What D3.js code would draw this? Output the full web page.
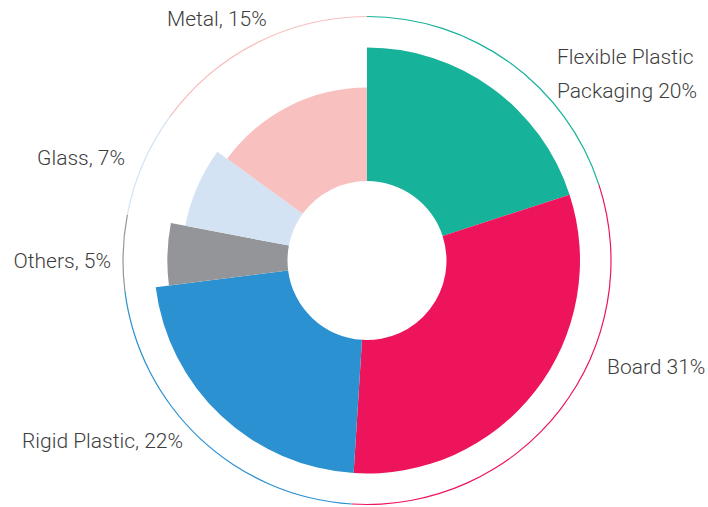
<!DOCTYPE html>
<html>
<head>
<meta charset="utf-8">
<script src="https://cdn.jsdelivr.net/npm/d3@7/dist/d3.min.js"></script>
<style>
html,body{margin:0;padding:0;background:#fff;}
svg{display:block;}
text{font-family:Roboto,"Noto Sans",sans-serif;font-weight:300;fill:#3d3d3d;}
</style>
</head>
<body>
<svg id="chart" width="708" height="507"></svg>
<script>
// Data
const categories = ["Flexible Plastic Packaging", "Board", "Rigid Plastic", "Others", "Glass", "Metal"];
const shares = [20, 31, 22, 5, 7, 15];
// relative depth of each wedge (100 = full length)
const depth = [100, 100, 100, 90, 79, 70];
const labels = [["Flexible Plastic", "Packaging 20%"], ["Board 31%"], ["Rigid Plastic, 22%"], ["Others, 5%"], ["Glass, 7%"], ["Metal, 15%"]];
const colors = ["#16B29A", "#EE145B", "#2B91D1", "#939598", "#D4E3F4", "#F8C0BF"];

const svg = d3.select("#chart");
const cx = 367, cy = 260.5;
const innerR = 79.5, maxR = 213, ringR = 244;

const g = svg.append("g").attr("transform", `translate(${cx},${cy})`);
const data = categories.map((c, i) => ({name: c, value: shares[i], depth: depth[i], color: colors[i], label: labels[i]}));

const pie = d3.pie().value(d => d.value).sort(null);
const arcs = pie(data);
const rScale = d3.scaleLinear().domain([0, 100]).range([innerR, maxR]);

const arc = d3.arc().innerRadius(innerR).outerRadius(d => rScale(d.data.depth));
g.selectAll("path.slice").data(arcs).join("path")
  .attr("class", "slice")
  .attr("d", arc)
  .attr("fill", d => d.data.color);

const ringArc = d3.arc().innerRadius(ringR - 0.6).outerRadius(ringR + 0.6);
g.selectAll("path.ring").data(arcs).join("path")
  .attr("class", "ring")
  .attr("d", ringArc)
  .attr("fill", d => d.data.color);

// label placement (pixel positions in the chart frame)
const labelPos = [
  {x: 557, y: 64, anchor: "start"},
  {x: 607, y: 374, anchor: "start"},
  {x: 183, y: 448, anchor: "end"},
  {x: 111, y: 268, anchor: "end"},
  {x: 125, y: 165, anchor: "end"},
  {x: 167, y: 26, anchor: "start"}
];
data.forEach((d, i) => {
  const p = labelPos[i];
  const t = svg.append("text")
    .attr("x", p.x).attr("y", p.y)
    .attr("text-anchor", p.anchor)
    .style("font-size", "21px");
  d.label.forEach((line, j) => {
    t.append("tspan").attr("x", p.x).attr("dy", j === 0 ? 0 : 34).text(line);
  });
});
</script>
</body>
</html>
